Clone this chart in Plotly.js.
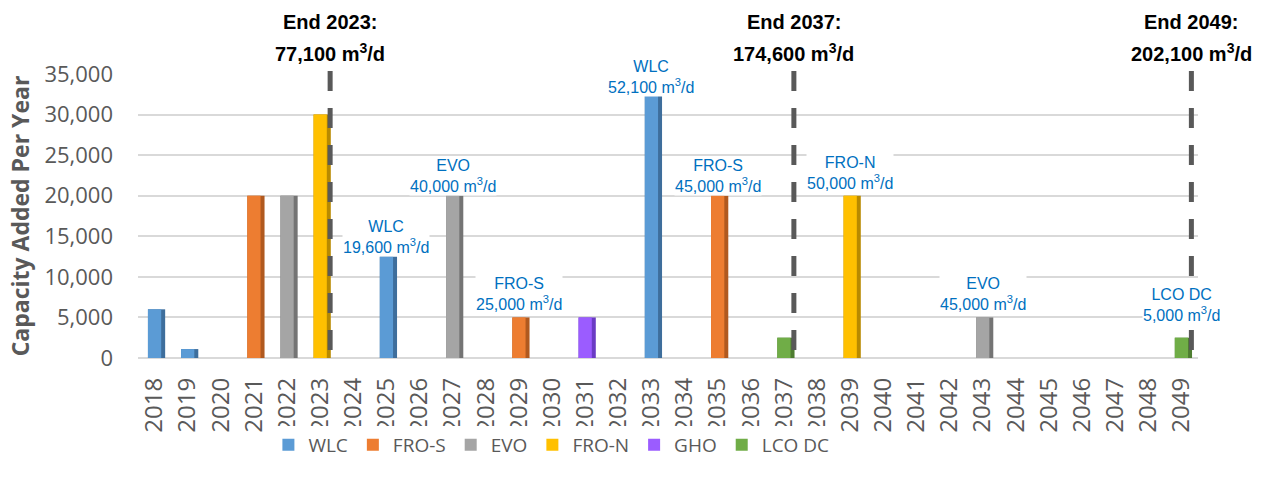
<!DOCTYPE html>
<html><head><meta charset="utf-8">
<script src="https://cdn.plot.ly/plotly-3.0.1.min.js"></script>
<style>html,body{margin:0;padding:0;background:#fff}#chart{width:1267px;height:487px}</style>
</head><body><div id="chart"></div>
<script>
const years = ['2018','2019','2020','2021','2022','2023','2024','2025','2026','2027','2028','2029','2030','2031','2032','2033','2034','2035','2036','2037','2038','2039','2040','2041','2042','2043','2044','2045','2046','2047','2048','2049'];

const seriesNames = ['WLC','FRO-S','EVO','FRO-N','GHO','LCO DC'];
const wlcYears = ['2018','2019','2025','2033'];
const wlcValues = [6000,1100,12500,32500];
const frosYears = ['2021','2029','2035'];
const frosValues = [20000,5000,20000];
const evoYears = ['2022','2027','2043'];
const evoValues = [20000,20000,5000];
const fronYears = ['2023','2039'];
const fronValues = [30000,20000];
const ghoYears = ['2031'];
const ghoValues = [5000];
const lcoYears = ['2037','2049'];
const lcoValues = [2500,2500];

const labelYears = ['2025','2027','2029','2033','2035','2039','2043','2049'];
const labelNames = ['WLC','EVO','FRO-S','WLC','FRO-S','FRO-N','EVO','LCO DC'];
const labelTotals = ['19,600','40,000','25,000','52,100','45,000','50,000','45,000','5,000'];

const milestoneYears = ['2023','2037','2049'];
const milestoneTotals = ['77,100','174,600','202,100'];

const seriesYears = [wlcYears, frosYears, evoYears, fronYears, ghoYears, lcoYears];
const seriesValues = [wlcValues, frosValues, evoValues, fronValues, ghoValues, lcoValues];
const frontColors = ['#5B9BD5','#ED7D31','#A5A5A5','#FFC000','#9B5CFF','#70AD47'];
const sideColors = ['#3E6E9C','#B0591F','#747474','#B88A00','#6A3BC4','#4E7D31'];
const labelShift = [0,0,3,-3,0,3,3,13];

const traces = [];
seriesNames.forEach((n, i) => {
  traces.push({type:'bar', x: seriesYears[i], y: seriesValues[i], name: n, showlegend:false,
    marker:{color: sideColors[i], line:{width:0}}, width:0.52, offset:-0.2, hoverinfo:'skip'});
});
seriesNames.forEach((n, i) => {
  traces.push({type:'bar', x: seriesYears[i], y: seriesValues[i], name: n,
    marker:{color: frontColors[i], line:{width:0}}, width:0.4, offset:-0.2});
});

function valueAt(year){
  for (let i=0;i<seriesYears.length;i++){
    const k = seriesYears[i].indexOf(year);
    if (k>=0) return seriesValues[i][k];
  }
  return 0;
}

const annotations = [];
labelYears.forEach((yr, i) => {
  annotations.push({x: years.indexOf(yr), y: valueAt(yr), xref:'x', yref:'y', yanchor:'bottom', yshift: labelShift[i],
    text: labelNames[i] + '<br>' + labelTotals[i] + ' m<sup>3</sup>/d', showarrow:false, bgcolor:'#fff', borderpad:0,
    font:{family:'Liberation Sans, Arial', size:16, color:'#0070C0'}});
});
const shapes = [];
milestoneYears.forEach((yr, i) => {
  const xi = years.indexOf(yr) + 0.3;
  shapes.push({type:'line', xref:'x', yref:'paper', x0:xi, x1:xi, y0:0.028, y1:1.021,
    line:{color:'#595959', width:5, dash:'20px,17px'}});
  annotations.push({x: xi, xref:'x', yref:'paper', y:1.183, yanchor:'middle', showarrow:false,
    text:'End ' + yr + ':', font:{family:'Liberation Sans, Arial', size:20, color:'#000', weight:'bold'}});
  annotations.push({x: xi, xref:'x', yref:'paper', y:1.077, yanchor:'middle', showarrow:false,
    text: milestoneTotals[i] + ' m<sup>3</sup>/d', font:{family:'Liberation Sans, Arial', size:20, color:'#000', weight:'bold'}});
});

const layout = {
  width:1267, height:487,
  margin:{l:138, r:69, t:74, b:129},
  paper_bgcolor:'#fff', plot_bgcolor:'#fff',
  barmode:'overlay',
  showlegend:true,
  legend:{orientation:'h', x:0.39, xanchor:'center', y:-0.306, yanchor:'middle', itemwidth:30,
    font:{family:'Open Sans', size:19, color:'#595959'}, traceorder:'normal'},
  xaxis:{type:'category', categoryorder:'array', categoryarray: years, tickvals: years,
    range:[-0.5, years.length-0.5], tickangle:-90, showgrid:false, zeroline:false, showline:false,
    ticks:'', ticklabelstandoff:14, tickfont:{family:'Open Sans', size:24, color:'#595959'}},
  yaxis:{range:[0,35000], dtick:5000, tickformat:',d', showgrid:true, gridcolor:'#D9D9D9', gridwidth:2,
    zeroline:true, zerolinecolor:'#D9D9D9', zerolinewidth:2, showline:false, ticks:'', ticklabelstandoff:24,
    tickfont:{family:'Open Sans', size:22, color:'#595959'},
    title:{text:'Capacity Added Per Year', standoff:8, font:{family:'Open Sans', size:23, color:'#595959', weight:'bold'}}},
  annotations: annotations,
  shapes: shapes
};
Plotly.newPlot('chart', traces, layout, {displayModeBar:false, staticPlot:true});
</script></body></html>
